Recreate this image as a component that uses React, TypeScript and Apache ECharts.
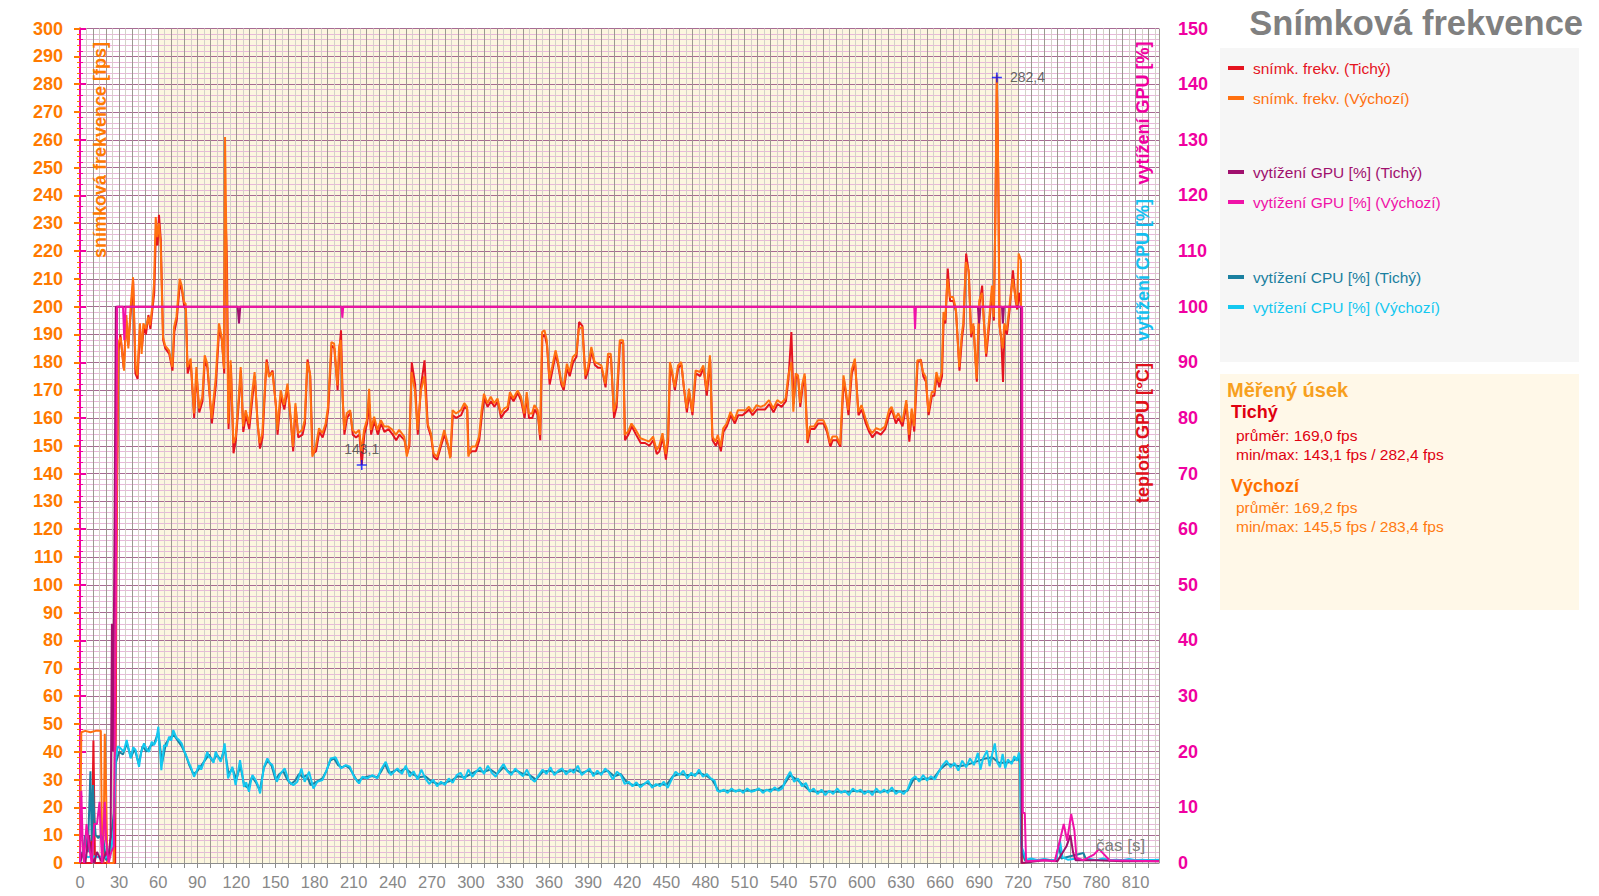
import React, { useEffect, useRef } from "react";
import * as echarts from "echarts";

// ---- tick labels / axes ----
const timeLabels = [0, 30, 60, 90, 120, 150, 180, 210, 240, 270, 300, 330, 360, 390, 420, 450, 480, 510, 540, 570, 600, 630, 660, 690, 720, 750, 780, 810];
const measuredSection = [60, 720];

// ---- series: [time s, value] ----
const fpsTichy: number[][] = [[0,0],[9,0],[10.3,44],[11.5,0],[27,0],[28,110],[29.5,184],[31,190],[33.5,178],[35.5,195],[37,186],[39,198],[40.8,209],[42.5,176],[44.2,174],[46,192],[47.5,185],[49,193],[50.6,190],[52.5,197],[54,192],[55.6,199],[57,205],[58.3,228],[59.5,222],[60.6,233],[62,224],[63.8,188],[65.5,185],[68.5,183],[71,177],[72.4,191],[74.2,195],[76.6,208],[78.2,206],[80,200],[81.3,199],[82.6,176],[85,180],[87.6,160],[89.4,176],[91.5,162],[94,166],[95.8,181],[97.8,178],[101.2,158],[104.3,172],[106.8,192],[108.9,188],[110.7,176],[111.5,237],[112.8,215],[114,156],[115.8,179],[117.8,147.3],[119.6,152],[121.6,164],[123.5,177],[125.3,155],[127.3,161],[129.9,156],[132.5,168],[134.2,175],[136.3,158],[138.1,149],[140.1,153],[143.2,181],[145.2,175],[147.8,177],[150.4,164],[151.6,154],[154.2,168],[156.8,163],[159.4,171],[161.9,158],[163.6,148],[165.5,164],[167.5,153],[170.8,154],[172.6,158],[174.6,181],[176.7,175],[178.5,147],[181.1,148],[183.6,155],[186.2,153],[188.7,157],[190.5,163],[193.1,186],[195.2,185],[197.7,170],[199,184],[200.3,191.5],[201.6,167],[202.9,154],[204.9,160],[207.5,162],[209.3,154],[211.8,153],[214.4,154],[216.2,143.1],[218.2,154],[220.3,158],[222.1,165],[223.4,154],[225.9,159],[228.5,154],[231.1,158],[233.6,155],[236.7,156],[240,154],[242.6,152],[245.1,154],[249,152],[251,147],[252.8,150],[254.6,180],[257.2,172],[259.2,154],[261.8,172],[264.4,180.7],[266.9,157],[269.5,153],[271.5,146],[274.1,145],[277.1,150],[279.7,154],[282.3,150],[284.3,146],[286.1,161],[288.7,160],[292.5,161],[295.1,164],[297.2,163],[298.2,147],[300.8,148],[303.8,148],[306.4,152],[308.4,161],[310.2,167],[312.8,164],[315.4,166],[318,164],[320.6,166],[323.1,160],[325.7,162],[328.3,163],[330.1,168],[332.7,166],[336,169],[338.6,166],[341.2,160],[343,168],[344.5,160],[347.1,160],[348.9,163],[351.4,161],[353.2,152],[354.8,189],[356.6,190],[358.4,186],[360.4,172],[362.5,177],[365.1,183],[366.9,179],[369.4,172],[371.2,170],[373.8,178],[375.8,175],[378.4,180],[381,182],[383,194.5],[385.6,193],[387.9,174],[390,177],[392.6,184],[395.1,179],[397.7,178],[400.3,178],[403.3,171],[405.4,182],[407.5,182],[409.8,160],[411.8,164],[414.4,187],[416.9,187],[418.2,152],[420.8,154],[423.4,157],[426.7,154],[430.3,151],[433.6,151],[436.9,150],[440,152],[442.6,147],[444.6,148],[447.2,153],[449.6,145],[451.4,152],[452.9,179],[454.7,175],[456.5,170],[459.1,178],[461.6,179],[463.6,170],[465.7,162],[467.5,169],[470,161],[472.6,176],[475.9,175],[478.5,178],[481,168],[483.6,181],[485.4,152],[487.9,150],[489.7,152],[491.8,148],[493.8,155],[496.4,157],[499.4,161],[502.5,158],[505.1,161],[508.4,161],[511,162],[513.5,163],[516.1,161],[519.4,163],[522.5,163],[525.6,163],[528.9,165],[532.2,162],[535.3,165],[538.4,164],[541.7,166],[543.7,174],[545.9,190.9],[547.6,165],[549.4,175],[551.2,174],[552.7,164],[554.5,171],[556.3,175],[558.3,151],[560.4,156],[563.5,156],[566.5,158],[570.6,158],[573.2,155],[575.8,149.7],[577.6,152],[580.9,152],[583.5,149.7],[586.1,174],[587.9,168],[589.7,161],[592.3,176],[594.8,180],[597.4,161],[599.9,163],[603,158],[605.6,155],[608.1,153],[611.2,155],[614.5,154],[617.9,156],[621,161],[623,163],[626.1,158],[628.1,160],[631.2,157],[634.3,165],[636.4,151.5],[638.4,162],[640.2,155.1],[642.8,180],[645.3,181],[647.1,175],[649.2,173],[651.2,161],[653.8,168],[655.6,168],[657.4,175],[659.4,171],[661.5,175],[662.8,196],[664.1,194],[665.9,213.7],[667.7,202],[670.2,202],[672.3,198],[674.9,177],[676.9,189],[678,193],[680,219.1],[682.1,212],[683.9,189],[685.7,193],[688.2,173],[690.3,201],[692.3,207.6],[693.6,195],[695.4,182],[698,195],[700,206],[701.3,195],[702.6,240],[703.6,282.4],[704.7,245],[705.7,193],[707,188],[708.3,172.9],[709.5,193],[711.3,190],[713.4,199],[715.9,213.1],[718,202],[719.2,199],[720.5,205],[722.1,200],[722.6,0],[725,0]];

const fpsVychozi: number[][] = [[0,0],[1,47],[4,47.5],[8,47],[12,47.5],[16,47.5],[17,1],[18,0],[19,46.5],[20,27],[21,0],[26,0],[28,120],[29.4,186.7],[31.2,189],[33.8,177],[35.6,197],[37.1,185],[38.9,200],[40.7,210.6],[42.7,178.3],[44,175.3],[46,194],[47.3,183],[48.6,194],[50.4,192],[52.4,196.3],[53.7,193.3],[55.5,200],[56.8,208.3],[58.1,232.2],[59.4,225],[60.6,230],[61.9,222.7],[63.7,189.1],[65.3,186],[68.3,184.3],[70.9,178.3],[72.2,192.7],[74,196.3],[76.5,210],[78,207.6],[79.9,201.6],[81.1,201],[82.4,178.3],[84.9,181.3],[87.5,161.6],[89.3,178.3],[91.3,163.4],[93.9,167.6],[95.7,182.5],[97.7,179.5],[101,159.8],[104.1,174.1],[106.7,194],[108.7,189.1],[110.5,177.7],[111.3,261],[112.3,225],[113.8,158],[115.6,180.7],[117.7,150.9],[119.5,153.3],[121.5,165.3],[123.3,178.3],[125.1,156.9],[127.1,162.8],[129.7,158],[132.3,169.9],[134,176.5],[136.1,159.2],[137.9,150.9],[139.9,154.5],[143,180.1],[145,174.7],[147.6,176.5],[150.2,165.3],[151.4,155.7],[154,169.9],[156.6,164.7],[159.2,172.3],[161.7,160],[163.4,149.7],[165.3,165.3],[167.3,154.5],[170.6,155.7],[172.4,159.2],[174.4,180.1],[176.5,176],[178.3,146.1],[180.9,149.7],[183.4,156.3],[186,154.5],[188.5,158],[190.3,164],[192.9,187.3],[195,186.7],[197.5,171.7],[198.8,185.5],[200.1,188],[201.4,168.7],[202.7,155.7],[204.7,161.7],[207.3,162.8],[209.1,155.7],[211.6,154.5],[214.2,155.7],[216,148],[218,155.7],[220.1,159.2],[221.9,170.5],[223.2,155.7],[225.7,160.4],[228.3,155.7],[230.9,159.2],[233.4,156.9],[236.5,156.9],[239.8,155.7],[242.4,153.9],[244.9,155.7],[248.8,153.3],[250.8,146.1],[252.6,150.9],[254.4,176.5],[257,169.9],[259,155.7],[261.6,169.9],[264.2,175],[266.7,158],[269.3,154.5],[271.3,147.3],[273.9,146],[276.9,150.9],[279.5,155.7],[282.1,150.9],[284.1,145.5],[285.9,162.8],[288.5,161.6],[292.3,162.8],[294.9,165.3],[297,164],[298,146.1],[300.6,149.7],[303.6,149.7],[306.2,153.3],[308.2,162.8],[310,168.7],[312.6,165.3],[315.2,167.6],[317.8,165.3],[320.4,167],[322.9,161.6],[325.5,163.4],[328.1,164],[329.9,169.3],[332.5,167],[335.8,169.9],[338.4,167.6],[341,161.6],[342.8,169.3],[344.3,161.6],[346.9,161.6],[348.7,164.6],[351.2,162.8],[353,153.9],[354.6,190.9],[356.4,191.5],[358.2,187.9],[360.2,174.1],[362.3,178.3],[364.9,184.3],[366.7,180.7],[369.2,173.5],[371,171.1],[373.6,179.5],[375.6,176.5],[378.2,181.9],[380.8,183.1],[382.8,192],[385.4,192.7],[387.7,175.3],[389.8,178.3],[392.4,185.5],[394.9,180.1],[397.5,179.5],[400.1,178.9],[403.1,172.3],[405.2,183.1],[407.3,183.1],[409.6,162.2],[411.6,165.8],[414.2,187.9],[416.7,187.9],[418,153.9],[420.6,155.1],[423.2,158],[426.5,155.7],[430.1,152.7],[433.4,152.1],[436.7,151.5],[439.8,153.3],[442.4,148.5],[444.4,149.7],[447,154.5],[449.4,147],[451.2,153.3],[452.7,180.1],[454.5,176.5],[456.3,171.1],[458.9,178.9],[461.4,180.1],[463.4,171.1],[465.5,163.4],[467.3,170.5],[469.8,162.2],[472.4,177.1],[475.7,176.5],[478.3,178.9],[480.8,169.9],[483.4,182.5],[485.2,153.3],[487.7,151.5],[489.5,153.9],[491.6,149.7],[493.6,156.3],[496.2,158],[499.2,162.2],[502.3,159.2],[504.9,162.8],[508.2,162.8],[510.8,162.8],[513.3,164],[515.9,162.2],[519.2,164.6],[522.3,164],[525.4,164.6],[528.7,166.4],[532,163.4],[535.1,166.4],[538.2,165.3],[541.5,167],[543.5,175.3],[545.9,180],[547.4,162.2],[549.2,176],[551,175.3],[552.5,165.3],[554.3,172.3],[556.1,176],[558.1,152.1],[560.2,156.9],[563.3,156.9],[566.3,159.2],[570.4,159.2],[573,156.3],[575.6,151],[577.4,153.3],[580.7,153.3],[583.3,150.5],[585.9,175.3],[587.7,169.9],[589.5,162.8],[592.1,177.1],[594.6,181.3],[597.2,162.2],[599.7,164.6],[602.8,159.8],[605.4,156.3],[607.9,154.5],[611,156.3],[614.3,155.7],[617.7,156.9],[620.8,162.8],[622.8,164],[625.9,159.8],[627.9,161.7],[631,158.6],[634.1,166.4],[636.2,154],[638.2,163.4],[640,157],[642.6,180.7],[645.1,180.7],[646.9,176.5],[649,174.7],[651,162.2],[653.6,169.3],[655.4,169.3],[657.2,176.5],[659.2,172.9],[661.3,176.5],[662.6,198.1],[663.9,195.1],[665.7,210],[667.5,203.5],[670,203.5],[672.1,199.3],[674.7,178.3],[676.7,190.3],[677.8,194],[679.8,216],[681.9,213.1],[683.7,190.3],[685.5,194],[688,174.1],[690.1,202.3],[692.1,205],[693.4,196.3],[695.2,183.1],[697.8,196.3],[699.8,207.6],[701.1,196.3],[702.4,230],[703.5,283.4],[704.6,250],[705.5,194],[706.8,189.1],[708.1,185],[709.3,194],[711.1,191.5],[713.2,199.9],[715.7,210],[717.8,203.5],[719,200.5],[720.3,219.1],[722.1,216.7],[722.8,0],[725,0]];

const gpuTichy: number[][] = [[0,0],[2,2],[4,0],[7,5],[9,1],[11,0],[13,2],[15,1],[17,0],[20,2],[22,1],[23.5,5],[24.5,43],[25.3,20],[26.5,60],[27.5,100],[121,100],[122,97],[123,100],[689,100],[690,97],[691,100],[707.5,100],[708.2,97],[709,100],[722,100],[722.6,0],[740,0.5],[750,0.3],[757,3],[760,5],[762,2],[764,0.5],[780,0.5],[800,0.3],[828,0.3]];

const gpuVychozi: number[][] = [[0,0],[1,13],[2,4],[3,0],[5,7],[7,3],[9,0],[11,7],[13,7],[15,11],[16,5],[17,0],[19,11],[20,4],[22,0],[24,2],[26,3],[27.3,40],[28.5,100],[33,100],[34,94],[35,100],[200.7,100],[201.3,98],[202,100],[640.2,100],[640.8,96],[641.5,100],[723,100],[723.5,9],[725,9],[726,0.3],[740,0.5],[748,0.3],[752.4,4.5],[754.9,7],[757.5,4],[760.6,8.8],[763.1,5.8],[764.7,0.9],[770,0.5],[778,1.5],[782,2.5],[786,1.5],[790,0.5],[828,0.3]];

const cpuTichy: number[][] = [[0,0],[2,1.5],[4,5],[6,2],[8,16.5],[9,4],[10,14],[11,8],[12,5],[14,4.5],[16,5],[18,4],[20,0.5],[22,1],[24,5],[26,9],[27.5,18],[30,20],[33,19.5],[36,21.5],[39,19],[42,20.5],[45,17.8],[48,21],[51,20],[54,21],[57,21.5],[60,23.5],[63,18],[66,21.5],[69,22.5],[72,23],[75,22],[78,21],[81,19.5],[84,17.5],[87,16],[90,16.5],[93,17.5],[96,18.5],[99,19.5],[102,18.2],[105,19.5],[108,18.5],[111,20.5],[114,16],[117,17],[120,15],[123,17.5],[126,14],[129,13.5],[132,15.5],[135,14.5],[138,13],[141,17],[144,18.5],[147,17.5],[150,15],[153,16],[156,16.5],[159,15],[162,14.2],[165,14.8],[168,16],[171,15.4],[174,15.8],[177,14],[180,14.4],[183,14.8],[186,15.2],[189,16.5],[192,18.4],[195,18.8],[198,17.6],[201,17.2],[204,17.5],[207,17],[210,15.8],[213,14.6],[216,15.2],[219,15.4],[222,15.6],[225,15.6],[228,15.4],[231,16.4],[234,17.8],[237,16.2],[240,16.4],[243,16.8],[245,16.4],[250,17],[255,16],[260,15.4],[265,15.6],[270,14.6],[275,14.2],[280,14.4],[285,14.8],[290,15.6],[295,15.4],[300,16],[305,16.6],[310,16.4],[315,16.8],[320,16],[325,17.2],[330,16.2],[335,16.6],[340,16],[345,15.8],[350,15],[355,16.4],[360,16.6],[365,16.2],[370,16.6],[375,16.4],[380,16.8],[385,16.2],[390,16.6],[395,16],[400,16.2],[405,16.6],[410,15.6],[415,16],[420,14.4],[425,14],[430,14],[435,14.4],[440,13.8],[445,14.2],[450,14],[455,15.6],[460,16],[465,15.8],[470,15.8],[475,16.2],[480,15.8],[485,15],[490,13],[495,13],[500,13],[505,13],[510,13],[515,13],[520,13.2],[525,13],[530,13.2],[535,13.2],[540,14],[545,15.8],[550,15],[555,14],[560,13],[565,12.8],[570,12.8],[575,12.8],[580,12.8],[585,12.8],[590,12.8],[595,13],[600,12.8],[605,12.8],[610,12.8],[615,12.8],[620,13],[625,13],[630,12.8],[635,13],[640,15.2],[645,15],[650,15.2],[655,15.2],[660,16.8],[665,17.8],[670,17.6],[675,17.4],[680,17.6],[685,18],[690,18.4],[695,18.8],[700,19],[705,18],[710,18],[715,18.2],[720,19],[721.5,18],[722,5],[723,2],[725,0.5],[740,0.6],[749,0.5],[751,3.3],[753,0.8],[770,1.8],[772,0.6],[800,0.5],[828,0.5]];

const cpuVychozi: number[][] = [[0,1],[2,2],[4,1.5],[6,1],[8,1.2],[10,1],[12,1.3],[14,1],[16,1.2],[18,1],[20,1],[22,1.5],[24,2.5],[26,6],[27.4,18.5],[29,21],[31.2,20.6],[33.5,20],[35.8,22.1],[38.9,18.8],[40.8,20.8],[42.7,20.3],[45.3,17.3],[47,20],[49.1,21.5],[51,20.5],[53,20],[55,21.8],[56.8,21.2],[58.5,22],[60.1,24.5],[62.4,16.7],[64.5,21.2],[66.5,21],[68.3,22.7],[70,22],[71.6,23.9],[74,22.5],[76,22.1],[78,21.5],[79.8,20.3],[82,19],[83.7,17.9],[85.5,17],[87.5,15.5],[89.5,16.5],[91.3,17.6],[93,16.8],[95.2,18.2],[97.7,20],[99,19],[100.8,18.8],[102.5,18],[104.1,20],[106,19],[108,18.2],[109.5,19.5],[111,21.5],[113.6,15.2],[115,16],[116.9,17.3],[119.4,14],[121,16],[122.8,18.5],[124.5,16],[125.8,13.7],[127.5,14.5],[129.7,12.8],[131,14.5],[132.3,15.8],[134.8,14.9],[136.5,14],[138.2,12.5],[141.2,17.3],[143.8,18.8],[145.5,18],[147.6,17.6],[149.5,16],[151,14.6],[154,16.1],[157.1,17],[160.4,14.6],[163.7,14],[166.8,14.6],[169.9,17],[172.4,14.6],[175.8,16.4],[179.1,13.4],[182.1,14.6],[186,14.9],[189.3,16.7],[192.4,18.8],[196.2,19],[200.1,17],[203.9,17.6],[207.2,17.3],[210.3,15.5],[214.1,14.3],[216.7,15.5],[220.5,15.2],[224.4,15.8],[228.2,15.2],[230.8,16.7],[234.6,18.2],[238.5,15.8],[243.6,17],[247,16],[250,17.5],[253,15.5],[256,16.5],[259,15],[262,16.8],[265,15.2],[268,14.2],[271,15],[274,13.8],[277,14.6],[280,14],[283,15.2],[286,14.4],[289,15.8],[292,16.2],[295,15],[298,16.8],[301,15.5],[304,16.4],[307,17.2],[310,16],[313,17.5],[316,16.2],[319,15.5],[322,16.8],[325,17.8],[328,16.5],[331,15.8],[334,17],[337,16.2],[340,15.6],[343,16.8],[346,15.2],[349,14.6],[352,15.8],[355,16.8],[358,16],[361,17.2],[364,15.8],[367,16.6],[370,17],[373,15.9],[376,16.8],[379,16.2],[382,17.5],[385,15.8],[388,16.4],[391,17],[394,15.6],[397,16.6],[400,15.8],[403,17],[406,16.2],[409,15],[412,16.4],[415,15.8],[418,14.2],[421,14.6],[424,13.8],[427,14.5],[430,13.6],[433,14.2],[436,14.8],[439,13.5],[442,14.2],[445,13.8],[448,14.6],[451,13.5],[454,15],[457,16.4],[460,15.8],[463,16.6],[466,15.2],[469,16.2],[472,15.6],[475,16.8],[478,15.5],[481,16],[484,15.2],[487,14.8],[489,13],[491,12.8],[494,13.2],[497,12.6],[500,13.4],[503,12.8],[506,13.2],[509,12.6],[512,13.4],[515,12.8],[518,13],[521,13.4],[524,12.6],[527,13.2],[530,12.8],[533,13.6],[536,13],[539,13.4],[542,15.2],[545,16.4],[548,14.6],[551,15.2],[554,13.8],[557,14.4],[560,12.8],[563,13.4],[566,12.4],[569,13.2],[572,12.2],[575,13],[578,12.4],[581,13.4],[584,12.6],[587,13],[590,12.2],[593,13.4],[596,12.8],[599,13.2],[602,12.4],[605,13],[608,12.2],[611,13.4],[614,12.6],[617,13.2],[620,12.6],[623,13.6],[626,12.4],[629,13],[632,12.4],[635,13.2],[638,15],[641,15.6],[644,14.6],[647,15.8],[650,14.8],[653,15.6],[656,15],[659,16.4],[662,17.6],[665,18.4],[668,17.2],[671,18],[674,16.6],[677,18.4],[680,17.2],[683,18.8],[686,17.6],[689,19.8],[691,16.8],[693,18.8],[696,20.2],[698,17.4],[700,19.6],[702,21.5],[704,18],[706,17.2],[708,19.6],[710,17],[712,18.6],[715,17.8],[717,19.2],[719,18.4],[720.5,19.8],[721.2,19.5],[722.5,3],[724,2],[726,0.6],[730,0.8],[735,0.5],[740,0.7],[745,0.5],[749,0.6],[752,4],[754,1],[758,0.6],[765,0.8],[770,0.5],[775,0.7],[780,0.5],[785,0.8],[790,0.5],[795,0.6],[800,0.5],[805,0.7],[810,0.5],[815,0.6],[820,0.5],[828,0.6]];

const legendNames = ["snímk. frekv. (Tichý)", "snímk. frekv. (Výchozí)", "vytížení GPU [%] (Tichý)", "vytížení GPU [%] (Výchozí)", "vytížení CPU [%] (Tichý)", "vytížení CPU [%] (Výchozí)"];
const statsTichy = ["průměr: 169,0 fps", "min/max: 143,1 fps / 282,4 fps"];
const statsVychozi = ["průměr: 169,2 fps", "min/max: 145,5 fps / 283,4 fps"];

const C = {
  red: "#e5141f",
  orange: "#ff7010",
  purple: "#a0106e",
  magenta: "#f012a8",
  teal: "#1a80a0",
  cyan: "#14c8f0",
};
const FONT = "'Liberation Sans', Arial, sans-serif";

function extremes(data: number[][], from: number, to: number) {
  let min = data[0], max = data[0];
  let first = true;
  for (const p of data) {
    if (p[0] < from || p[0] > to) continue;
    if (first) { min = p; max = p; first = false; }
    if (p[1] < min[1]) min = p;
    if (p[1] > max[1]) max = p;
  }
  return { min, max };
}

export default function App() {
  const ref = useRef<HTMLDivElement>(null);
  useEffect(() => {
    if (!ref.current) return;
    const chart = echarts.init(ref.current, null, { renderer: "svg" });
    const ext = extremes(fpsTichy, 30, 722);
    const fmt = (v: number) => v.toFixed(1).replace(".", ",");
    const beige = "#fcf6df";
    const areaColors: string[] = [];
    for (let t = 0; t < 840; t += 60) areaColors.push(t >= measuredSection[0] && t < measuredSection[1] ? beige : "#ffffff");

    const line = (name: string, data: number[][], color: string, yAxisIndex: number, z: number) => ({
      type: "line", name, data, xAxisIndex: 0, yAxisIndex, showSymbol: false, symbol: "none",
      lineStyle: { color, width: 2 }, itemStyle: { color }, z, silent: true,
    });

    const legendRows = [68, 98, 172, 202, 277, 307];
    const legendColors = [C.red, C.orange, C.purple, C.magenta, C.teal, C.cyan];
    const graphic: any[] = [
      { type: "text", right: 16, top: 5, z: 50, style: { text: "Snímková frekvence", font: `bold 34.5px ${FONT}`, fill: "#808080" } },
      { type: "rect", z: -1, shape: { x: 1220, y: 48, width: 359, height: 314 }, style: { fill: "#f6f6f6" } },
      { type: "rect", z: -1, shape: { x: 1220, y: 374, width: 359, height: 236 }, style: { fill: "#fff8e8" } },
      { type: "text", z: 50, x: 99.5, y: 150, rotation: Math.PI / 2, style: { text: "snímková frekvence [fps]", font: `bold 18px ${FONT}`, fill: "#ff7a00", align: "center", verticalAlign: "middle" } },
      { type: "text", z: 50, x: 1142.5, y: 113, rotation: Math.PI / 2, style: { text: "vytížení GPU [%]", font: `bold 18px ${FONT}`, fill: "#f000a0", align: "center", verticalAlign: "middle" } },
      { type: "text", z: 50, x: 1142.5, y: 270, rotation: Math.PI / 2, style: { text: "vytížení CPU [%]", font: `bold 18px ${FONT}`, fill: "#14c0f0", align: "center", verticalAlign: "middle" } },
      { type: "text", z: 50, x: 1142.5, y: 433, rotation: Math.PI / 2, style: { text: "teplota GPU [°C]", font: `bold 18px ${FONT}`, fill: "#e0101a", align: "center", verticalAlign: "middle" } },
      { type: "text", z: 50, x: 1096, y: 845, style: { text: "čas [s]", font: `17px ${FONT}`, fill: "#808080", verticalAlign: "middle" } },
      { type: "text", z: 50, x: 1227, y: 390, style: { text: "Měřený úsek", font: `bold 20px ${FONT}`, fill: "#f7a01e", verticalAlign: "middle" } },
      { type: "text", z: 50, x: 1231, y: 412, style: { text: "Tichý", font: `bold 18px ${FONT}`, fill: "#e00010", verticalAlign: "middle" } },
      { type: "text", z: 50, x: 1236, y: 435, style: { text: statsTichy[0], font: `15.5px ${FONT}`, fill: "#e00010", verticalAlign: "middle" } },
      { type: "text", z: 50, x: 1236, y: 454, style: { text: statsTichy[1], font: `15.5px ${FONT}`, fill: "#e00010", verticalAlign: "middle" } },
      { type: "text", z: 50, x: 1231, y: 486, style: { text: "Výchozí", font: `bold 18px ${FONT}`, fill: "#ff7000", verticalAlign: "middle" } },
      { type: "text", z: 50, x: 1236, y: 507, style: { text: statsVychozi[0], font: `15.5px ${FONT}`, fill: "#ff7a10", verticalAlign: "middle" } },
      { type: "text", z: 50, x: 1236, y: 526, style: { text: statsVychozi[1], font: `15.5px ${FONT}`, fill: "#ff7a10", verticalAlign: "middle" } },
    ];
    legendNames.forEach((n, i) => {
      graphic.push({ type: "rect", z: 50, shape: { x: 1228, y: legendRows[i] - 2, width: 16, height: 4 }, style: { fill: legendColors[i] } });
      graphic.push({ type: "text", z: 50, x: 1253, y: legendRows[i], style: { text: n, font: `15.5px ${FONT}`, fill: legendColors[i], verticalAlign: "middle" } });
    });

    const option: any = {
      animation: false,
      backgroundColor: "#ffffff",
      grid: { left: 80, right: 440, top: 28.5, bottom: 33, containLabel: false },
      xAxis: [
        {
          type: "value", min: 0, max: 828, interval: 10, z: 1,
          axisLine: { show: true, lineStyle: { color: "#8c8c8c", width: 1 } },
          axisTick: { show: true, length: 5, lineStyle: { color: "#8c8c8c" } },
          axisLabel: {
            show: true, margin: 10, fontSize: 16.5, color: "#888888", fontFamily: FONT, showMaxLabel: false,
            formatter: (v: number) => (timeLabels.indexOf(v) >= 0 ? String(v) : ""),
          },
          splitLine: { show: true, lineStyle: { color: "#9c9890", width: 1 } },
          minorTick: { show: false, splitNumber: 2 },
          minorSplitLine: { show: true, lineStyle: { color: "#d4d0c8", width: 1 } },
        },
        {
          type: "value", min: 0, max: 828, interval: 60, z: 0, show: true,
          axisLine: { show: false }, axisTick: { show: false }, axisLabel: { show: false },
          splitLine: { show: false },
          splitArea: { show: true, areaStyle: { color: areaColors } },
        },
      ],
      yAxis: [
        {
          type: "value", min: 0, max: 300, interval: 10, position: "left", z: 1,
          axisLine: { show: true, lineStyle: { color: "#ff7a00", width: 2 } },
          axisTick: { show: true, length: 6, lineStyle: { color: "#ff7a00", width: 2 } },
          minorTick: { show: true, splitNumber: 5, length: 3, lineStyle: { color: "#ff7a00", width: 1 } },
          axisLabel: { margin: 17, fontSize: 18, fontWeight: "bold", color: "#ff7a00", fontFamily: FONT },
          splitLine: { show: true, lineStyle: { color: "#a86a94", width: 1 } },
          minorSplitLine: { show: true, lineStyle: { color: "#e8b8da", width: 1 } },
        },
        {
          type: "value", min: 0, max: 150, interval: 10, position: "right", z: 1,
          axisLine: { show: true, lineStyle: { color: "#f000a0", width: 2 } },
          axisTick: { show: true, length: 6, lineStyle: { color: "#f000a0", width: 2 } },
          minorTick: { show: true, splitNumber: 5, length: 3, lineStyle: { color: "#f000a0", width: 1 } },
          axisLabel: { margin: 19, fontSize: 18, fontWeight: "bold", color: "#f000a0", fontFamily: FONT },
          splitLine: { show: false },
        },
      ],
      graphic,
      series: [
        line(legendNames[0], fpsTichy, C.red, 0, 3),
        line(legendNames[1], fpsVychozi, C.orange, 0, 4),
        line(legendNames[4], cpuTichy, C.teal, 1, 5),
        line(legendNames[5], cpuVychozi, C.cyan, 1, 6),
        line(legendNames[2], gpuTichy, C.purple, 1, 7),
        line(legendNames[3], gpuVychozi, C.magenta, 1, 8),
        {
          type: "scatter", xAxisIndex: 0, yAxisIndex: 0, z: 10, silent: true,
          symbol: "path://M0,4.2H10V5.8H0Z M4.2,0H5.8V10H4.2Z", symbolSize: 10,
          itemStyle: { color: "#0010ff" },
          data: [
            { value: ext.min, label: { show: true, position: "top", distance: 4, formatter: () => fmt(ext.min[1]), color: "#404040", fontSize: 14, fontFamily: FONT } },
            { value: ext.max, label: { show: true, position: "right", distance: 8, formatter: () => fmt(ext.max[1]), color: "#404040", fontSize: 14, fontFamily: FONT } },
          ],
        },
      ],
    };
    chart.setOption(option);
    return () => chart.dispose();
  }, []);
  return <div ref={ref} style={{ position: "fixed", left: 0, top: 0, width: 1599, height: 896 }} />;
}
